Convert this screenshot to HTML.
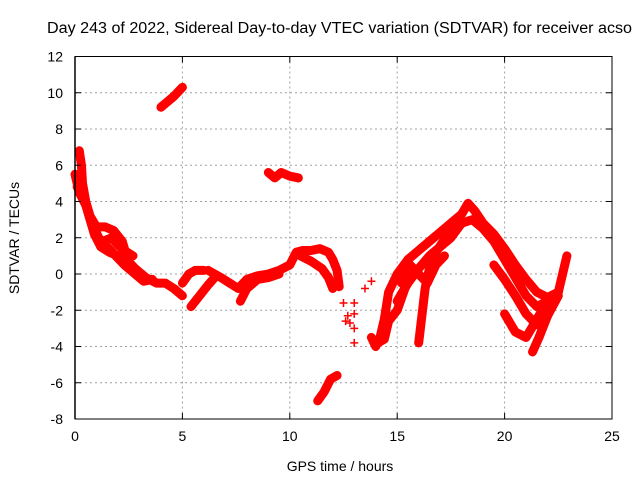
<!DOCTYPE html>
<html><head><meta charset="utf-8"><style>
body{margin:0;background:#fff}
svg{display:block;font-family:"Liberation Sans",sans-serif}
</style></head><body>
<svg id="chart" width="640" height="480">
<text x="47" y="33" textLength="585" lengthAdjust="spacingAndGlyphs" font-size="15.5">Day 243 of 2022, Sidereal Day-to-day VTEC variation (SDTVAR) for receiver acso</text>
<text x="340" y="471" text-anchor="middle" font-size="14">GPS time / hours</text>
<text transform="translate(19,238) rotate(-90)" text-anchor="middle" font-size="14">SDTVAR / TECUs</text>
<g id="grid"></g><g id="marks"></g><g id="axes"></g>
</svg>
<script>
const xTicks=[0,5,10,15,20,25];
const yTicks=[-8,-6,-4,-2,0,2,4,6,8,10,12];
const track1=[[0,5.5],[0.2,4.5],[0.5,3.8],[0.7,3],[0.9,2.2],[1.2,1.5],[1.6,1.2],[2,1],[2.4,0.8],[2.8,0.3],[3.3,-0.2],[3.8,-0.5],[4.2,-0.5],[4.6,-0.8],[5,-1.2]];
const track1b=[[0.2,6.8],[0.3,6],[0.35,5],[0.5,4],[0.7,3.2],[1,2.6],[1.4,2.6],[1.8,2.4],[2.2,1.8],[2.4,1.0],[2.6,0.4]];
const track1c=[[0.1,4.8],[0.4,4.2],[0.6,3.5],[0.8,2.8],[1.1,2.0],[1.5,1.5],[1.9,1.0],[2.3,0.5],[2.8,0.0],[3.2,-0.4],[3.6,-0.3]];
const track1f=[[1.3,1.8],[1.7,2.0],[2.0,1.6],[2.3,1.3],[2.7,1.0]];
const track1d=[[5,-0.5],[5.3,0],[5.6,0.2],[6,0.2]];
const track1e=[[5.4,-1.8],[5.8,-1.2],[6.2,-0.6],[6.5,-0.2]];
const track2=[[6.2,0.2],[6.8,-0.2],[7.2,-0.5],[7.6,-0.8],[8,-0.3],[8.5,-0.1],[9,0],[9.5,0.2],[10,0.5],[10.3,1.2],[10.6,1.3],[11,1.3],[11.4,1.4],[11.8,1.2],[12,0.8],[12.2,0.2],[12.3,-0.7]];
const track2b=[[7.7,-1.5],[8,-0.8],[8.5,-0.3],[9,-0.2],[9.5,0.0]];
const track2c=[[10.5,1.0],[11,0.7],[11.5,0.3],[11.8,-0.2],[12,-0.8]];
const track4=[[4.0,9.2],[4.3,9.5],[4.6,9.8],[5.0,10.3]];
const track5=[[9,5.6],[9.3,5.3],[9.6,5.6],[10,5.4],[10.4,5.3]];
const track6=[[11.3,-7],[11.6,-6.5],[11.9,-5.8],[12.2,-5.6]];
const scatter=[[12.7,-2.3],[12.8,-2.7],[13,-2.2],[13,-3],[13,-3.8],[13,-1.6],[12.5,-1.6],[12.6,-2.6],[13.5,-0.8],[13.8,-0.4]];
const track3=[[13.8,-3.5],[14,-4],[14.2,-3.5],[14.4,-2.5],[14.6,-1],[15,0],[15.5,0.8],[16,1.3],[16.5,1.8],[17,2.3],[17.5,2.8],[18,3.3],[18.3,3.9],[18.6,3.5],[19,2.8],[19.5,2.2],[20,1.4],[20.5,0.5],[21,-0.3],[21.5,-1],[22,-1.3],[22.5,-1.0]];
const track3b=[[15,-1.5],[15.5,-0.5],[16,0.3],[16.5,1],[17,1.5],[17.5,2.0],[18,2.8],[18.5,3.0],[19,2.5],[19.5,1.8],[20,0.8],[20.5,-0.2],[21,-1.2],[21.5,-1.8],[22,-1.5],[22.5,-1.0]];
const track3c=[[19.5,0.5],[20,-0.3],[20.5,-1.2],[21,-2.2],[21.5,-2.8],[22,-2.3],[22.5,-1.2]];
const track3d=[[20,-2.2],[20.5,-3.2],[21,-3.5],[21.5,-2.5],[22,-1.5]];
const track3e=[[21.3,-4.3],[21.6,-3.5],[22,-2.3],[22.3,-1.3]];
const track3f=[[22.5,-1.0],[22.7,0],[22.9,1.0]];
const track3g=[[14.1,-3.8],[14.4,-3.6],[14.6,-2.6],[15,-2],[15.3,-1.0],[15.5,-0.3]];
const track3h=[[16,-3.8],[16.1,-2.8],[16.2,-1.8],[16.3,-0.8],[16.5,0.3],[16.8,1.2],[17.2,1.9],[17.5,2.6]];
const track3i=[[15.2,-0.5],[15.6,0.5],[16,0.0],[16.4,-0.5],[16.8,0.5],[17.2,1.0]];
const tracks=[track1,track1b,track1c,track1f,track1d,track1e,track2,track2b,track2c,track4,track5,track6,track3,track3b,track3c,track3d,track3e,track3f,track3g,track3h,track3i];
const X0=75,X1=612,Y0=56.5,Y1=419;
const xs=t=>X0+(t-0)/25*(X1-X0);
const ys=v=>Y0+(12-v)/20*(Y1-Y0);
const NS='http://www.w3.org/2000/svg';
function mk(tag,attrs,parent){const e=document.createElementNS(NS,tag);for(const k in attrs)e.setAttribute(k,attrs[k]);parent.appendChild(e);return e;}
const grid=document.getElementById('grid'),axes=document.getElementById('axes'),marks=document.getElementById('marks');
mk('rect',{x:X0,y:Y0,width:X1-X0,height:Y1-Y0,fill:'none',stroke:'#000','stroke-width':1},axes);
xTicks.forEach(t=>{const x=xs(t);
 if(t>0&&t<25){const g=mk('line',{x1:x,y1:Y0,x2:x,y2:Y1,stroke:'#a0a0a0','stroke-dasharray':'2,3'},grid);}
 mk('line',{x1:x,y1:Y1,x2:x,y2:Y1-6,stroke:'#000'},axes);mk('line',{x1:x,y1:Y0,x2:x,y2:Y0+6,stroke:'#000'},axes);
 const l=mk('text',{x:x,y:Y1+22,'text-anchor':'middle','font-size':14},axes);l.textContent=t;
 
 });
yTicks.forEach(v=>{const y=ys(v);
 if(v>-8&&v<12){const g=mk('line',{x1:X0,y1:y,x2:X1,y2:y,stroke:'#a0a0a0','stroke-dasharray':'2,3'},grid);}
 mk('line',{x1:X0,y1:y,x2:X0+6,y2:y,stroke:'#000'},axes);mk('line',{x1:X1,y1:y,x2:X1-6,y2:y,stroke:'#000'},axes);
 const l=mk('text',{x:X0-12,y:y+5,'text-anchor':'end','font-size':14},axes);l.textContent=v;
 
 });
mk('line',{x1:X0,y1:Y0,x2:X0,y2:Y1,stroke:'#000','stroke-width':1.5},axes);
function plus(d){const x=xs(d[0]),y=ys(d[1]);
  const m=mk('path',{d:`M${x-4},${y}H${x+4}M${x},${y-4}V${y+4}`,stroke:'#ff0000','stroke-width':1.5},marks);
  
  }
tracks.forEach(tr=>{
 const p=mk('polyline',{points:tr.map(d=>xs(d[0])+','+ys(d[1])).join(' '),fill:'none',stroke:'#ff0000','stroke-width':9,'stroke-linejoin':'round','stroke-linecap':'round'},marks);
 
 
 tr.forEach(plus);
});
scatter.forEach(plus);
</script>
</body></html>
